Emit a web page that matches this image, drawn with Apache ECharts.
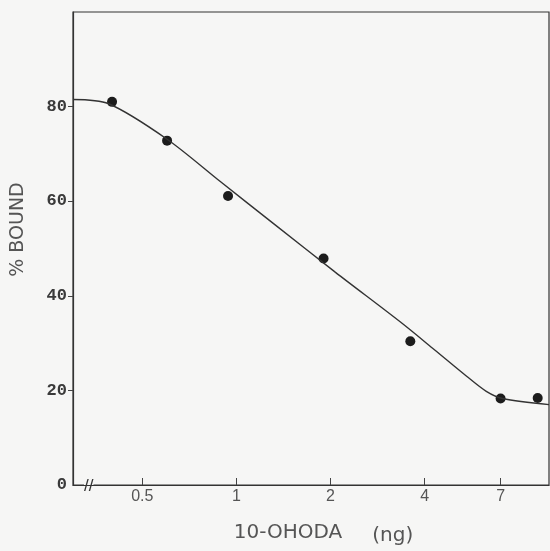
<!DOCTYPE html>
<html>
<head>
<meta charset="utf-8">
<script src="https://cdn.jsdelivr.net/npm/echarts@6/dist/echarts.min.js"></script>
<style>
  html, body { margin: 0; padding: 0; background: #f6f6f5; }
  #chart { width: 550px; height: 551px; }
</style>
</head>
<body>
<div id="chart"></div>
<script>
// measured points (ng, % bound)
const pointX = [0.4, 0.6, 0.94, 1.9, 3.6, 7.0, 9.2];
const pointY = [81.0, 72.8, 61.1, 47.9, 30.4, 18.3, 18.4];
// fitted curve
const curveX = [0.3, 0.39, 0.6, 0.89, 1.33, 2.07, 3.34, 4.3, 5.45, 6.3, 7.1, 10];
const curveY = [81.5, 80.6, 73.1, 64.1, 55.0, 45.0, 34.5, 28.6, 23.0, 19.8, 18.3, 17.0];
const xTicks = [0.5, 1, 2, 4, 7];
const yTicks = [0, 20, 40, 60, 80];

const chart = echarts.init(document.getElementById('chart'));

const option = {
  backgroundColor: '#f6f6f5',
  animation: false,
  grid: { left: 73, top: 12, right: 1, bottom: 65, show: true, borderColor: '#333', borderWidth: 1.2, backgroundColor: 'transparent' },
  xAxis: {
    type: 'log',
    logBase: 10,
    min: 0.3,
    max: 10,
    name: '{a|10-OHODA}{b|(ng)}',
    nameLocation: 'middle',
    nameGap: 35,
    nameTextStyle: {
      padding: [0, 0, 0, 25],
      rich: {
        a: { fontFamily: 'DejaVu Sans', fontSize: 20, color: '#555' },
        b: { fontFamily: 'DejaVu Sans', fontSize: 20, color: '#555', padding: [6, 0, 0, 30] }
      }
    },
    axisLine: { show: true, lineStyle: { color: '#333', width: 1.2 } },
    axisTick: { show: true, inside: true, length: 7, customValues: xTicks, lineStyle: { color: '#444' } },
    minorTick: { show: false },
    axisLabel: {
      customValues: xTicks,
      margin: 4,
      fontFamily: 'Liberation Sans',
      fontSize: 16,
      color: '#555',
      formatter: v => String(v)
    },
    splitLine: { show: false },
    minorSplitLine: { show: false }
  },
  yAxis: {
    type: 'value',
    min: 0,
    max: 100,
    interval: 20,
    name: '% BOUND',
    nameLocation: 'middle',
    nameGap: 45,
    nameRotate: 90,
    nameTextStyle: { fontFamily: 'DejaVu Sans', fontSize: 19, color: '#555', padding: [0, 0, 0, 38] },
    axisLine: { show: true, lineStyle: { color: '#333', width: 1.2 } },
    axisTick: { show: true, length: 5, customValues: [20, 40, 60, 80], lineStyle: { color: '#444' } },
    axisLabel: {
      customValues: yTicks,
      margin: 6,
      fontFamily: 'Liberation Mono',
      fontWeight: 'bold',
      fontSize: 17,
      color: '#3a3a3a'
    },
    splitLine: { show: false }
  },
  graphic: [{
    type: 'text',
    left: 84,
    top: 478,
    style: { text: '//', fontFamily: 'Liberation Sans', fontSize: 17, fill: '#333', backgroundColor: '#f6f6f5' }
  }],
  series: [
    {
      type: 'line',
      data: curveX.map((x, i) => [x, curveY[i]]),
      smooth: 0.3,
      showSymbol: false,
      lineStyle: { color: '#333', width: 1.4 }
    },
    {
      type: 'scatter',
      data: pointX.map((x, i) => [x, pointY[i]]),
      symbolSize: 10,
      itemStyle: { color: '#1c1c1c', opacity: 1 }
    }
  ]
};

chart.setOption(option);
</script>
</body>
</html>
